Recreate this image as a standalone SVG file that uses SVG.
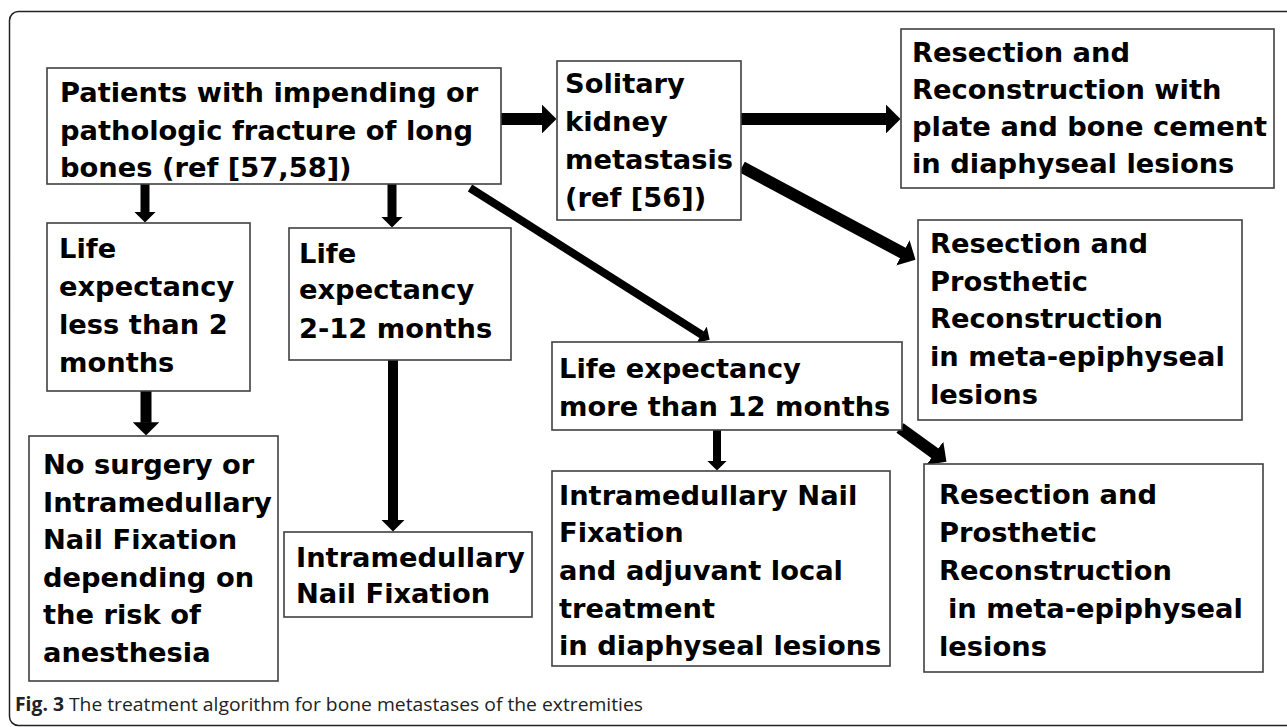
<svg xmlns="http://www.w3.org/2000/svg" width="1287" height="727" viewBox="0 0 1287 727">
<defs>
<style>
.box{fill:#fff;stroke:#404040;stroke-width:1.6}
.t{font-family:"DejaVu Sans",sans-serif;font-weight:bold;font-size:27.3px;fill:#000}
.arr{fill:none;stroke:#000;stroke-linecap:butt;marker-end:url(#ah)}
.cap{font-family:"Open Sans","Liberation Sans",sans-serif;font-size:19px;fill:#222}
</style>
<marker id="ah" viewBox="0 0 12 24" refX="0.5" refY="12" markerWidth="1.2" markerHeight="2.4" orient="auto" markerUnits="strokeWidth">
<path d="M0,0 L12,12 L0,24 z" fill="#000"/>
</marker>
</defs>
<rect x="9.5" y="11.5" width="1300" height="714" rx="9" fill="#fff" stroke="#222" stroke-width="1.5"/>

<g id="connectors">
<path class="arr" stroke-width="12" d="M501,119 L542.6,119"/>
<path class="arr" stroke-width="12" d="M741,119 L886.6,119"/>
<path class="arr" stroke-width="12" d="M742,167 L903.3,253.2"/>
<path class="arr" stroke-width="8" d="M470,188 L701.9,334.9"/>
<path class="arr" stroke-width="9" d="M145,184 L145,212.2"/>
<path class="arr" stroke-width="9" d="M392,184 L392,217.2"/>
<path class="arr" stroke-width="11" d="M146,391 L146,422.8"/>
<path class="arr" stroke-width="10" d="M393,360 L393,520"/>
<path class="arr" stroke-width="8" d="M717,430 L717,461.4"/>
<path class="arr" stroke-width="12" d="M900,428 L935.3,453.6"/>
</g>

<g id="n-patients">
<rect class="box" x="47" y="68" width="454" height="116"/>
<text class="t"><tspan x="60" y="102">Patients with impending or</tspan><tspan x="60" y="139.5">pathologic fracture of long</tspan><tspan x="60" y="177">bones (ref [57,58])</tspan></text>
</g>

<g id="n-solitary">
<rect class="box" x="557" y="61" width="184" height="159"/>
<text class="t"><tspan x="565" y="93">Solitary</tspan><tspan x="565" y="131">kidney</tspan><tspan x="565" y="169">metastasis</tspan><tspan x="565" y="207">(ref [56])</tspan></text>
</g>

<g id="n-resection-plate">
<rect class="box" x="901" y="29" width="373" height="159"/>
<text class="t"><tspan x="912" y="62">Resection and</tspan><tspan x="912" y="99">Reconstruction with</tspan><tspan x="912" y="136">plate and bone cement</tspan><tspan x="912" y="173">in diaphyseal lesions</tspan></text>
</g>

<g id="n-less2">
<rect class="box" x="47" y="223" width="203" height="168"/>
<text class="t"><tspan x="59" y="258">Life</tspan><tspan x="59" y="296">expectancy</tspan><tspan x="59" y="334">less than 2</tspan><tspan x="59" y="372">months</tspan></text>
</g>

<g id="n-2to12">
<rect class="box" x="289" y="228" width="222" height="132"/>
<text class="t"><tspan x="299" y="263">Life</tspan><tspan x="299" y="299">expectancy</tspan><tspan x="299" y="338">2-12 months</tspan></text>
</g>

<g id="n-nosurgery">
<rect class="box" x="29" y="436" width="249" height="245"/>
<text class="t"><tspan x="43" y="474">No surgery or</tspan><tspan x="43" y="511.6">Intramedullary</tspan><tspan x="43" y="549.2">Nail Fixation</tspan><tspan x="43" y="586.8">depending on</tspan><tspan x="43" y="624.4">the risk of</tspan><tspan x="43" y="662">anesthesia</tspan></text>
</g>

<g id="n-nail">
<rect class="box" x="284" y="532" width="248" height="85"/>
<text class="t"><tspan x="296" y="567">Intramedullary</tspan><tspan x="296" y="603">Nail Fixation</tspan></text>
</g>

<g id="n-more12">
<rect class="box" x="552" y="342" width="350" height="88"/>
<text class="t"><tspan x="559" y="377.5">Life expectancy</tspan><tspan x="559" y="415.5">more than 12 months</tspan></text>
</g>

<g id="n-nail-adjuvant">
<rect class="box" x="552" y="471" width="338" height="195"/>
<text class="t"><tspan x="559" y="505">Intramedullary Nail</tspan><tspan x="559" y="542">Fixation</tspan><tspan x="559" y="580">and adjuvant local</tspan><tspan x="559" y="618">treatment</tspan><tspan x="559" y="655">in diaphyseal lesions</tspan></text>
</g>

<g id="n-prosthetic-1">
<rect class="box" x="918" y="220" width="324" height="200"/>
<text class="t"><tspan x="930" y="253">Resection and</tspan><tspan x="930" y="291">Prosthetic</tspan><tspan x="930" y="328">Reconstruction</tspan><tspan x="930" y="366">in meta-epiphyseal</tspan><tspan x="930" y="404">lesions</tspan></text>
</g>

<g id="n-prosthetic-2">
<rect class="box" x="924" y="464" width="339" height="208"/>
<text class="t"><tspan x="939" y="504">Resection and</tspan><tspan x="939" y="542">Prosthetic</tspan><tspan x="939" y="580">Reconstruction</tspan><tspan x="948" y="618">in meta-epiphyseal</tspan><tspan x="939" y="656">lesions</tspan></text>
</g>

<text class="cap" x="15" y="711" textLength="628" lengthAdjust="spacingAndGlyphs"><tspan font-weight="bold">Fig. 3</tspan> The treatment algorithm for bone metastases of the extremities</text>
</svg>
